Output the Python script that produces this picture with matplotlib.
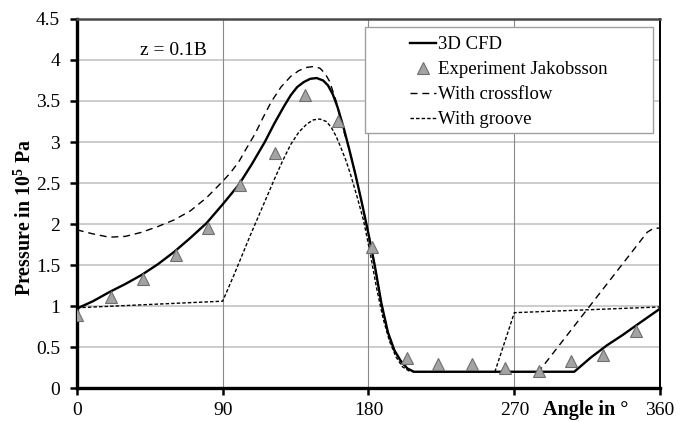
import matplotlib
matplotlib.use("Agg")
import matplotlib.pyplot as plt
from matplotlib.patches import Rectangle

plt.rcParams['font.family'] = ['Liberation Serif', 'DejaVu Serif']
plt.rcParams['mathtext.fontset'] = 'custom'
plt.rcParams['mathtext.rm'] = 'Liberation Serif'
plt.rcParams['mathtext.bf'] = 'Liberation Serif:bold'

# 3D CFD (solid)
cfd_x = [0, 10, 20, 30, 40, 50, 60, 70, 80, 90, 100, 108, 116, 122, 128, 132, 136, 140, 144,
         148, 152, 155, 158, 161, 165, 168, 172, 176, 180, 184, 188, 192, 196, 200, 204, 208,
         307, 317, 327, 337, 347, 360]
cfd_y = [0.97, 1.06, 1.17, 1.27, 1.38, 1.51, 1.66, 1.83, 2.01, 2.24, 2.48, 2.73, 3.00, 3.23,
         3.44, 3.57, 3.67, 3.73, 3.77, 3.78, 3.75, 3.69, 3.58, 3.42, 3.15, 2.92, 2.60, 2.25,
         1.88, 1.48, 1.03, 0.68, 0.46, 0.33, 0.24, 0.20, 0.20, 0.37, 0.52, 0.65, 0.79, 0.97]

# experiment Jakobsson (triangles)
exp_x = [0, 21, 41, 61, 81, 101, 122, 141, 161, 182, 204, 223, 244, 264, 285, 305, 325, 345]
exp_y = [0.89, 1.11, 1.33, 1.62, 1.95, 2.48, 2.87, 3.57, 3.26, 1.72, 0.37, 0.29, 0.29, 0.24,
         0.21, 0.33, 0.41, 0.70]

# with crossflow (long dashes)
cross_x = [0, 10, 20, 30, 40, 50, 60, 70, 80, 90, 95, 100, 104, 110, 115, 120, 126, 132, 137,
           142, 146, 150, 153, 156, 160, 164, 168, 172, 176, 180, 184, 188, 192, 196, 200, 204,
           208, 285, 352, 356, 360]
cross_y = [1.93, 1.88, 1.84, 1.85, 1.90, 1.97, 2.05, 2.16, 2.32, 2.52, 2.63, 2.76, 2.90, 3.10,
           3.30, 3.49, 3.67, 3.80, 3.87, 3.91, 3.92, 3.90, 3.84, 3.74, 3.50, 3.18, 2.92, 2.60,
           2.25, 1.88, 1.48, 1.03, 0.68, 0.46, 0.33, 0.24, 0.20, 0.20, 1.90, 1.95, 1.95]

# with groove (short dashes)
groove_x = [0, 45, 90, 97, 102, 107, 112, 117, 122, 127, 132, 137, 142, 146, 150, 154, 157,
            160, 163, 166, 169, 173, 177, 181, 185, 189, 193, 197, 201, 205, 208, 258, 270, 360]
groove_y = [0.98, 1.02, 1.06, 1.38, 1.62, 1.86, 2.09, 2.32, 2.55, 2.77, 2.97, 3.12, 3.22, 3.27,
            3.28, 3.25, 3.18, 3.07, 2.93, 2.78, 2.60, 2.33, 2.04, 1.65, 1.22, 0.85, 0.57, 0.38,
            0.26, 0.21, 0.20, 0.20, 0.92, 0.99]

x_ticks = [0, 90, 180, 270, 360]
y_ticks = [0, 0.5, 1, 1.5, 2, 2.5, 3, 3.5, 4, 4.5]
y_labels = ['0', '0.5', '1', '1.5', '2', '2.5', '3', '3.5', '4', '4.5']

fig = plt.figure(figsize=(6.92, 4.21), dpi=100)
ax = fig.add_axes([0.111, 0.078, 0.843, 0.877])

ax.plot(cfd_x, cfd_y, color='black', lw=1.7, label='3D CFD', zorder=4)
ax.plot(exp_x, exp_y, ls='none', marker='^', ms=9, mfc='#a3a3a3', mec='#6e6e6e', mew=0.8,
        label='Experiment Jakobsson', zorder=5)
ax.plot(cross_x, cross_y, color='black', lw=1.0, dashes=(5, 3.5), label='With crossflow', zorder=3)
ax.plot(groove_x, groove_y, color='black', lw=1.0, dashes=(2.5, 1.5), label='With groove', zorder=3)

ax.set_xlim(0, 360)
ax.set_ylim(0, 4.5)
ax.set_xticks(x_ticks)
ax.set_yticks(y_ticks)
ax.set_yticklabels(y_labels)
ax.tick_params(labelsize=14, length=5, width=1.8, direction='out')
ax.tick_params(axis='y', pad=7)
ax.tick_params(axis='x', pad=5)

for v in y_ticks[1:-1]:
    ax.axhline(v, color='#c4c4c4', lw=1.2, zorder=0)
for v in x_ticks[1:-1]:
    ax.axvline(v, color='#8a8a8a', lw=0.8, zorder=0)

ax.spines['left'].set_linewidth(2.4)
ax.spines['bottom'].set_linewidth(2.4)
ax.spines['top'].set_linewidth(1.8)
ax.spines['top'].set_color('#4a4a4a')
ax.spines['right'].set_linewidth(1.4)

ax.text(39, 4.12, 'z = 0.1B', fontsize=14, ha='left', va='center')

# legend frame drawn separately: it is wider than the entries
ax.add_patch(Rectangle((0.494, 0.691), 0.494, 0.287, transform=ax.transAxes, facecolor='white',
                       edgecolor='#a0a0a0', lw=1.0, zorder=6))
leg = ax.legend(loc='upper left', bbox_to_anchor=(0.572, 0.953), fontsize=13.5, frameon=False,
                handlelength=1.35, handletextpad=0.1, labelspacing=0.42, borderpad=0,
                borderaxespad=0)
leg.set_zorder(7)

fig.text(0.036, 0.482, r'Pressure in 10$^\mathbf{5}$ Pa', rotation=90, fontsize=14.3,
         fontweight='bold', ha='center', va='center')
fig.text(0.847, 0.027, 'Angle in °', fontsize=14.5, fontweight='bold', ha='center', va='center')

fig.savefig('out.png', dpi=100)
